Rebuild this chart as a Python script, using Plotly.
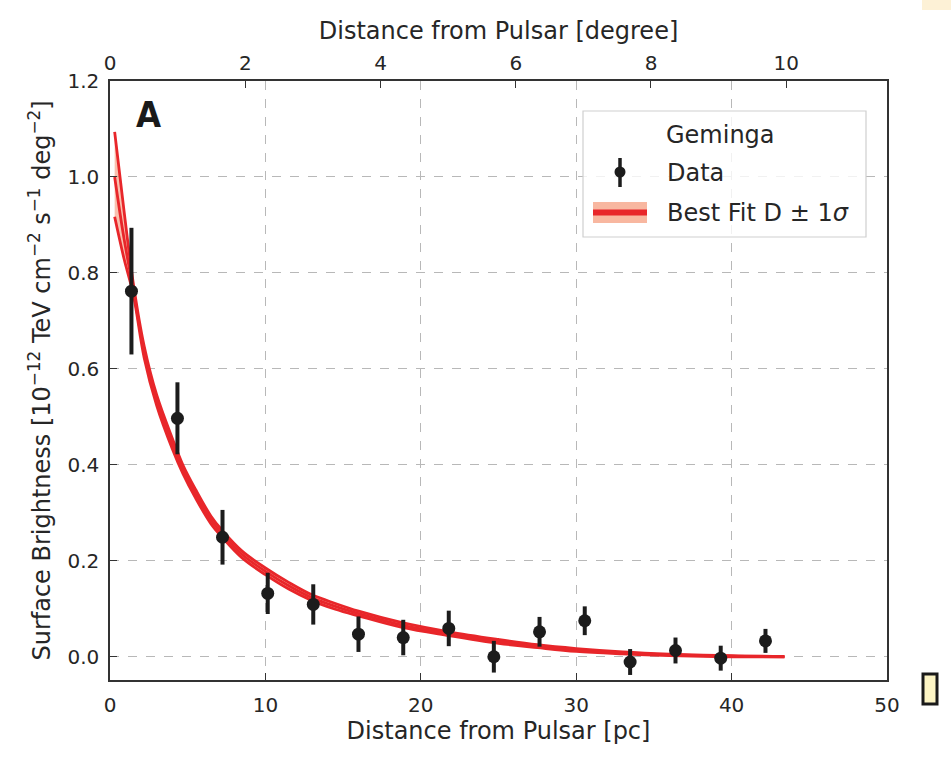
import plotly.graph_objects as go

# ---------------- data ----------------
dist_pc = [1.38, 4.34, 7.24, 10.15, 13.08, 15.99, 18.87, 21.8, 24.7, 27.64, 30.55, 33.47, 36.39, 39.3, 42.18]
sb = [0.762, 0.497, 0.249, 0.132, 0.109, 0.047, 0.040, 0.059, 0.000, 0.052, 0.075, -0.011, 0.013, -0.003, 0.033]
sb_err = [0.132, 0.075, 0.057, 0.043, 0.042, 0.037, 0.037, 0.037, 0.033, 0.031, 0.030, 0.027, 0.027, 0.026, 0.025]

fit_pc = [0.3, 0.9, 1.5, 2.2, 3.0, 4.0, 4.7, 5.5, 6.5, 7.25, 8.5, 10, 11.5, 13, 14.5, 16, 18.8, 21.8, 25, 27.5, 30, 33, 36, 40, 43.4]
fit_mid = [1.00, 0.872, 0.765, 0.635, 0.535, 0.445, 0.39, 0.34, 0.285, 0.255, 0.213, 0.178, 0.148, 0.123, 0.105, 0.090, 0.066, 0.048, 0.032, 0.022, 0.014, 0.008, 0.004, 0.001, 0.0]
fit_upper = [1.094, 0.93, 0.778, 0.647, 0.546, 0.456, 0.399, 0.349, 0.293, 0.262, 0.220, 0.185, 0.155, 0.129, 0.111, 0.095, 0.071, 0.052, 0.036, 0.025, 0.017, 0.010, 0.0055, 0.002, 0.0005]
fit_lower = [0.917, 0.83, 0.755, 0.623, 0.524, 0.434, 0.381, 0.331, 0.277, 0.248, 0.206, 0.171, 0.141, 0.117, 0.099, 0.085, 0.061, 0.044, 0.028, 0.019, 0.011, 0.006, 0.0025, 0.0, -0.0005]

pc_ticks = [0, 10, 20, 30, 40, 50]
sb_ticks = [0.0, 0.2, 0.4, 0.6, 0.8, 1.0, 1.2]
deg_ticks = [0, 2, 4, 6, 8, 10]

# ---------------- layout geometry ----------------
W, H = 951, 764
L, R, T, B = 110, 887, 81, 680

def px(x):
    return (x - L) / (R - L)

def py(y):
    return (B - y) / (B - T)

TXT = "#262626"
RED = "#e8262a"
SALMON = "rgba(245,150,120,0.6)"
FONT = "DejaVu Sans"

fig = go.Figure()

# band
fig.add_trace(go.Scatter(
    x=fit_pc + fit_pc[::-1], y=fit_upper + fit_lower[::-1],
    fill="toself", fillcolor=SALMON, mode="lines",
    line=dict(width=0, shape="spline"), hoverinfo="skip", showlegend=False))
for arr in (fit_upper, fit_lower, fit_mid):
    fig.add_trace(go.Scatter(
        x=fit_pc, y=arr, mode="lines",
        line=dict(color=RED, width=2.8, shape="spline"),
        hoverinfo="skip", showlegend=False))

# data
fig.add_trace(go.Scatter(
    x=dist_pc, y=sb, mode="markers",
    marker=dict(size=13, color="#1c1c1c"),
    error_y=dict(type="data", array=sb_err, thickness=4, width=0, color="#1c1c1c"),
    showlegend=False))

# invisible trace on the top axis
fig.add_trace(go.Scatter(x=[None], y=[None], xaxis="x2", showlegend=False, hoverinfo="skip"))

axis_common = dict(
    ticks="inside", ticklen=7, tickwidth=1.2, tickcolor="#333333",
    showline=True, linecolor="#333333", linewidth=1.5,
    zeroline=False, tickfont=dict(size=20, color=TXT, family=FONT),
)

fig.update_layout(
    width=W, height=H,
    margin=dict(l=L, r=W - R, t=T, b=H - B),
    paper_bgcolor="white", plot_bgcolor="white",
    font=dict(family=FONT, color=TXT),
    showlegend=False,
    xaxis=dict(
        range=[0, 50], tickvals=pc_ticks, mirror=True,
        showgrid=True, gridcolor="#b8b8b8", griddash="dash", gridwidth=1,
        ticklabelstandoff=6,
        title=dict(text="Distance from Pulsar [pc]", font=dict(size=24, color=TXT), standoff=6),
        **axis_common),
    yaxis=dict(
        range=[-0.0485, 1.2], tickvals=sb_ticks, tickformat=".1f", mirror=True,
        showgrid=True, gridcolor="#b8b8b8", griddash="dash", gridwidth=1,
        ticklabelstandoff=5,
        title=dict(text="Surface Brightness [10<sup>−12</sup> TeV cm<sup>−2</sup> s<sup>−1</sup> deg<sup>−2</sup>]",
                   font=dict(size=24, color=TXT), standoff=10),
        **axis_common),
    xaxis2=dict(
        overlaying="x", side="top", anchor="y", range=[0, 11.49], tickvals=deg_ticks,
        ticks="inside", ticklen=7, tickwidth=1.2, tickcolor="#333333",
        showline=False, showgrid=False, zeroline=False,
        ticklabelstandoff=6,
        tickfont=dict(size=20, color=TXT, family=FONT),
        title=dict(text="Distance from Pulsar [degree]", font=dict(size=24, color=TXT), standoff=4)),
)

shapes = []
# legend box
shapes.append(dict(type="rect", xref="paper", yref="paper",
                   x0=px(583), x1=px(866), y0=py(237), y1=py(111),
                   line=dict(color="#cfcfcf", width=1.2), fillcolor="rgba(255,255,255,0.8)", layer="above"))
# data legend symbol
shapes.append(dict(type="line", xref="paper", yref="paper",
                   x0=px(620), x1=px(620), y0=py(187), y1=py(158),
                   line=dict(color="#1c1c1c", width=3.5)))
shapes.append(dict(type="circle", xref="paper", yref="paper",
                   x0=px(614.5), x1=px(625.5), y0=py(177.5), y1=py(166.5),
                   line=dict(color="#1c1c1c", width=0), fillcolor="#1c1c1c"))
# fit legend symbol
shapes.append(dict(type="rect", xref="paper", yref="paper",
                   x0=px(593), x1=px(647), y0=py(223), y1=py(202),
                   line=dict(width=0), fillcolor="#f8b7a0"))
shapes.append(dict(type="line", xref="paper", yref="paper",
                   x0=px(593), x1=px(647), y0=py(212.5), y1=py(212.5),
                   line=dict(color=RED, width=6)))
# small yellow box at the right edge
shapes.append(dict(type="rect", xref="paper", yref="paper",
                   x0=px(923), x1=px(937), y0=py(704), y1=py(674),
                   line=dict(color="#1a1a1a", width=3), fillcolor="#fcf4c4"))
shapes.append(dict(type="rect", xref="paper", yref="paper",
                   x0=px(922), x1=px(960), y0=py(10), y1=py(-10),
                   line=dict(width=0), fillcolor="#fdf1d6"))
fig.update_layout(shapes=shapes)

annotations = [
    dict(text="Geminga", x=px(720), y=py(135), xref="paper", yref="paper",
         showarrow=False, xanchor="center", yanchor="middle",
         font=dict(size=24, color=TXT, family=FONT)),
    dict(text="Data", x=px(665), y=py(173), xref="paper", yref="paper",
         showarrow=False, xanchor="left", yanchor="middle",
         font=dict(size=24, color=TXT, family=FONT)),
    dict(text="Best Fit D ± 1<i>σ</i>", x=px(665), y=py(213), xref="paper", yref="paper",
         showarrow=False, xanchor="left", yanchor="middle",
         font=dict(size=24, color=TXT, family=FONT)),
    dict(text="<b>A</b>", x=px(148), y=py(114), xref="paper", yref="paper",
         showarrow=False, xanchor="center", yanchor="middle",
         font=dict(size=36, color="#1a1a1a", family="Liberation Sans Narrow, DejaVu Sans Condensed, Arial Narrow, sans-serif")),
]
fig.update_layout(annotations=annotations)

fig.write_html("out.html")
